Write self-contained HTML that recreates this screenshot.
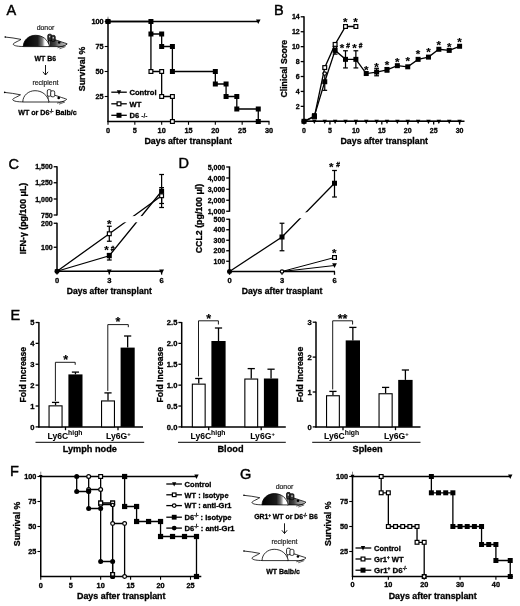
<!DOCTYPE html>
<html lang="en">
<head>
<meta charset="utf-8">
<title>Figure</title>
<style>
html,body{margin:0;padding:0;background:#fff;}
body{width:520px;height:606px;overflow:hidden;}
svg{display:block;filter:blur(0.35px);font-family:'Liberation Sans', sans-serif;}
</style>
</head>
<body>
<svg width="520" height="606" viewBox="0 0 520 606" font-family="Liberation Sans, sans-serif">
<rect x="0" y="0" width="520" height="606" fill="#fff"/>
<text x="6.50" y="14.70" font-size="14.5" text-anchor="start" fill="#000" stroke="#000" stroke-width="0.45">A</text>
<text x="274.00" y="14.70" font-size="14.5" text-anchor="start" fill="#000" stroke="#000" stroke-width="0.45">B</text>
<text x="8.50" y="168.50" font-size="14.5" text-anchor="start" fill="#000" stroke="#000" stroke-width="0.45">C</text>
<text x="178.50" y="168.30" font-size="14.5" text-anchor="start" fill="#000" stroke="#000" stroke-width="0.45">D</text>
<text x="10.50" y="320.00" font-size="14.5" text-anchor="start" fill="#000" stroke="#000" stroke-width="0.45">E</text>
<text x="10.00" y="475.80" font-size="14.5" text-anchor="start" fill="#000" stroke="#000" stroke-width="0.45">F</text>
<text x="240.00" y="478.80" font-size="14.5" text-anchor="start" fill="#000" stroke="#000" stroke-width="0.45">G</text>
<text x="45.50" y="29.60" font-size="6.9" text-anchor="middle" fill="#222" stroke="#222" stroke-width="0.2">donor</text>
<g transform="translate(5.00 37.00)">
<defs><linearGradient id="ga" x1="0" x2="1" y1="0" y2="0"><stop offset="0" stop-color="#000"/><stop offset="0.55" stop-color="#1c1c1c"/><stop offset="0.72" stop-color="#777"/><stop offset="0.82" stop-color="#fff"/><stop offset="1" stop-color="#fff"/></linearGradient><linearGradient id="ha" x1="0" x2="1" y1="0" y2="0"><stop offset="0" stop-color="#fff"/><stop offset="0.1" stop-color="#222"/><stop offset="0.35" stop-color="#444"/><stop offset="0.55" stop-color="#888"/><stop offset="1" stop-color="#c4c4c4"/></linearGradient></defs>
<path d="M0,0 C5,0.4 11,1.4 16,2.4 C13,4.4 8.2,6 8.2,7.2 C8.6,9 14,9.5 18.5,9.5" fill="none" stroke="#000" stroke-width="0.8"/>
<circle cx="0.2" cy="0" r="0.8" fill="#000"/>
<path d="M43.5,2.2 C48,2 52,3.2 55,4.4 C58,5.5 61,6.2 62.2,6.9 C61,8.4 58,9.5 55,9.6 L43.5,9.6 Z" fill="url(#ha)" stroke="#000" stroke-width="0.8"/>
<path d="M18.3,9.6 C18.3,3 24,-1.7 30.5,-1.7 C37.5,-1.7 43,2.5 44.6,9.6 Z" fill="url(#ga)" stroke="#000" stroke-width="0.8"/>
<rect x="42.8" y="-2.8" width="3.8" height="6.6" rx="1.4" fill="#333" stroke="#000" stroke-width="0.8"/>
<rect x="46.2" y="-1.6" width="4.0" height="6.0" rx="1.4" fill="#333" stroke="#000" stroke-width="0.8"/>
<rect x="44" y="-1.2" width="1.2" height="1.6" fill="#ccc"/><rect x="47.6" y="0" width="1.3" height="1.6" fill="#ccc"/>
<circle cx="54.2" cy="5.5" r="1.3" fill="#000"/>
<path d="M52.5,10.8 L59.5,8.9 M54.5,11.8 L60.5,9.6" fill="none" stroke="#000" stroke-width="0.6"/>
</g>
<text x="34.50" y="61.40" font-size="7.6" text-anchor="start" fill="#000" font-weight="bold" stroke="#000" stroke-width="0.3" textLength="21.60" lengthAdjust="spacingAndGlyphs">WT B6</text>
<line x1="45.50" y1="65.00" x2="45.50" y2="75.00" stroke="#000" stroke-width="0.9" stroke-linecap="butt"/>
<polyline points="42.90,71.80 45.50,75.00 48.10,71.80" fill="none" stroke="#000" stroke-width="0.9" stroke-linejoin="miter"/>
<text x="45.40" y="85.00" font-size="6.9" text-anchor="middle" fill="#222" stroke="#222" stroke-width="0.2">recipient</text>
<g transform="translate(4.50 92.40)">
<path d="M0,0 C5,0.4 11,1.4 16,2.4 C13,4.4 8.2,6 8.2,7.2 C8.6,9 14,9.5 18.5,9.5" fill="none" stroke="#000" stroke-width="0.8"/>
<circle cx="0.2" cy="0" r="0.8" fill="#000"/>
<path d="M43.5,2.2 C48,2 52,3.2 55,4.4 C58,5.5 61,6.2 62.2,6.9 C61,8.4 58,9.5 55,9.6 L43.5,9.6 Z" fill="#fff" stroke="#000" stroke-width="0.8"/>
<path d="M18.3,9.6 C18.3,3 24,-1.7 30.5,-1.7 C37.5,-1.7 43,2.5 44.6,9.6 Z" fill="#fff" stroke="#000" stroke-width="0.8"/>
<rect x="42.8" y="-2.8" width="3.8" height="6.6" rx="1.4" fill="#fff" stroke="#000" stroke-width="0.8"/>
<rect x="46.2" y="-1.6" width="4.0" height="6.0" rx="1.4" fill="#fff" stroke="#000" stroke-width="0.8"/>
<circle cx="54.2" cy="5.5" r="1.3" fill="#000"/>
<path d="M52.5,10.8 L59.5,8.9 M54.5,11.8 L60.5,9.6" fill="none" stroke="#000" stroke-width="0.6"/>
</g>
<text x="18.25" y="115.00" font-size="7.6" text-anchor="start" fill="#000" font-weight="bold" stroke="#000" stroke-width="0.3" textLength="58.50" lengthAdjust="spacingAndGlyphs">WT or D6<tspan font-size="4.5" dy="-2.5">-/-</tspan><tspan dy="2.5"> Balb/c</tspan></text>
<line x1="108.00" y1="21.00" x2="108.00" y2="122.10" stroke="#000" stroke-width="1.5" stroke-linecap="butt"/>
<line x1="107.40" y1="121.50" x2="269.50" y2="121.50" stroke="#000" stroke-width="1.5" stroke-linecap="butt"/>
<line x1="108.00" y1="16.70" x2="108.00" y2="21.50" stroke="#555" stroke-width="0.7" stroke-linecap="butt"/>
<line x1="104.70" y1="96.50" x2="108.00" y2="96.50" stroke="#000" stroke-width="1.1" stroke-linecap="butt"/>
<text x="103.70" y="99.20" font-size="7.3" text-anchor="end" fill="#000" font-weight="bold" stroke="#000" stroke-width="0.3">25</text>
<line x1="104.70" y1="71.50" x2="108.00" y2="71.50" stroke="#000" stroke-width="1.1" stroke-linecap="butt"/>
<text x="103.70" y="74.20" font-size="7.3" text-anchor="end" fill="#000" font-weight="bold" stroke="#000" stroke-width="0.3">50</text>
<line x1="104.70" y1="46.50" x2="108.00" y2="46.50" stroke="#000" stroke-width="1.1" stroke-linecap="butt"/>
<text x="103.70" y="49.20" font-size="7.3" text-anchor="end" fill="#000" font-weight="bold" stroke="#000" stroke-width="0.3">75</text>
<line x1="104.70" y1="21.50" x2="108.00" y2="21.50" stroke="#000" stroke-width="1.1" stroke-linecap="butt"/>
<text x="103.70" y="24.20" font-size="7.3" text-anchor="end" fill="#000" font-weight="bold" stroke="#000" stroke-width="0.3">100</text>
<line x1="108.00" y1="121.50" x2="108.00" y2="124.80" stroke="#000" stroke-width="1.1" stroke-linecap="butt"/>
<text x="108.00" y="133.20" font-size="7.3" text-anchor="middle" fill="#000" font-weight="bold" stroke="#000" stroke-width="0.3">0</text>
<line x1="134.83" y1="121.50" x2="134.83" y2="124.80" stroke="#000" stroke-width="1.1" stroke-linecap="butt"/>
<text x="134.83" y="133.20" font-size="7.3" text-anchor="middle" fill="#000" font-weight="bold" stroke="#000" stroke-width="0.3">5</text>
<line x1="161.67" y1="121.50" x2="161.67" y2="124.80" stroke="#000" stroke-width="1.1" stroke-linecap="butt"/>
<text x="161.67" y="133.20" font-size="7.3" text-anchor="middle" fill="#000" font-weight="bold" stroke="#000" stroke-width="0.3">10</text>
<line x1="188.50" y1="121.50" x2="188.50" y2="124.80" stroke="#000" stroke-width="1.1" stroke-linecap="butt"/>
<text x="188.50" y="133.20" font-size="7.3" text-anchor="middle" fill="#000" font-weight="bold" stroke="#000" stroke-width="0.3">15</text>
<line x1="215.33" y1="121.50" x2="215.33" y2="124.80" stroke="#000" stroke-width="1.1" stroke-linecap="butt"/>
<text x="215.33" y="133.20" font-size="7.3" text-anchor="middle" fill="#000" font-weight="bold" stroke="#000" stroke-width="0.3">20</text>
<line x1="242.17" y1="121.50" x2="242.17" y2="124.80" stroke="#000" stroke-width="1.1" stroke-linecap="butt"/>
<text x="242.17" y="133.20" font-size="7.3" text-anchor="middle" fill="#000" font-weight="bold" stroke="#000" stroke-width="0.3">25</text>
<line x1="269.00" y1="121.50" x2="269.00" y2="124.80" stroke="#000" stroke-width="1.1" stroke-linecap="butt"/>
<text x="269.00" y="133.20" font-size="7.3" text-anchor="middle" fill="#000" font-weight="bold" stroke="#000" stroke-width="0.3">30</text>
<text x="85.20" y="91.20" font-size="9" text-anchor="start" fill="#000" font-weight="bold" stroke="#000" stroke-width="0.3" transform="rotate(-90 85.20 91.20)" textLength="44.60" lengthAdjust="spacingAndGlyphs">Survival %</text>
<text x="144.50" y="144.40" font-size="8.8" text-anchor="start" fill="#000" font-weight="bold" stroke="#000" stroke-width="0.3" textLength="87.50" lengthAdjust="spacingAndGlyphs">Days after transplant</text>
<line x1="108.00" y1="21.50" x2="258.27" y2="21.50" stroke="#000" stroke-width="1.3" stroke-linecap="butt"/>
<polygon points="255.98,19.52 260.55,19.52 258.27,24.10" fill="#000"/>
<polyline points="150.93,21.50 150.93,71.50 161.67,71.50 161.67,96.50 172.40,96.50 172.40,121.50" fill="none" stroke="#000" stroke-width="1.3" stroke-linejoin="miter"/>
<rect x="149.03" y="69.60" width="3.8" height="3.8" fill="#fff" stroke="#000" stroke-width="1.2"/>
<rect x="159.77" y="69.60" width="3.8" height="3.8" fill="#fff" stroke="#000" stroke-width="1.2"/>
<rect x="159.77" y="94.60" width="3.8" height="3.8" fill="#fff" stroke="#000" stroke-width="1.2"/>
<rect x="170.50" y="94.60" width="3.8" height="3.8" fill="#fff" stroke="#000" stroke-width="1.2"/>
<rect x="170.50" y="119.60" width="3.8" height="3.8" fill="#fff" stroke="#000" stroke-width="1.2"/>
<polyline points="108.00,21.50 150.93,21.50 150.93,34.00 161.67,34.00 161.67,46.50 172.40,46.50 172.40,71.50 215.33,71.50 215.33,84.00 226.07,84.00 226.07,96.50 236.80,96.50 236.80,109.00 258.27,109.00 258.27,121.50" fill="none" stroke="#000" stroke-width="1.3" stroke-linejoin="miter"/>
<rect x="105.50" y="19.00" width="5.0" height="5.0" fill="#000"/>
<rect x="148.43" y="19.00" width="5.0" height="5.0" fill="#000"/>
<rect x="148.43" y="31.50" width="5.0" height="5.0" fill="#000"/>
<rect x="159.17" y="31.50" width="5.0" height="5.0" fill="#000"/>
<rect x="159.17" y="44.00" width="5.0" height="5.0" fill="#000"/>
<rect x="169.90" y="44.00" width="5.0" height="5.0" fill="#000"/>
<rect x="169.90" y="69.00" width="5.0" height="5.0" fill="#000"/>
<rect x="212.83" y="69.00" width="5.0" height="5.0" fill="#000"/>
<rect x="212.83" y="81.50" width="5.0" height="5.0" fill="#000"/>
<rect x="223.57" y="81.50" width="5.0" height="5.0" fill="#000"/>
<rect x="223.57" y="94.00" width="5.0" height="5.0" fill="#000"/>
<rect x="234.30" y="94.00" width="5.0" height="5.0" fill="#000"/>
<rect x="234.30" y="106.50" width="5.0" height="5.0" fill="#000"/>
<rect x="255.77" y="106.50" width="5.0" height="5.0" fill="#000"/>
<rect x="255.77" y="119.00" width="5.0" height="5.0" fill="#000"/>
<circle cx="108.00" cy="21.50" r="2.70" fill="#000"/>
<line x1="111.30" y1="92.20" x2="126.80" y2="92.20" stroke="#000" stroke-width="1.3" stroke-linecap="butt"/>
<polygon points="116.80,90.30 121.20,90.30 119.00,94.70" fill="#000"/>
<text x="129.50" y="94.90" font-size="7.6" text-anchor="start" fill="#000" font-weight="bold" stroke="#000" stroke-width="0.3">Control</text>
<line x1="111.30" y1="103.80" x2="126.80" y2="103.80" stroke="#000" stroke-width="1.3" stroke-linecap="butt"/>
<rect x="117.10" y="101.90" width="3.8" height="3.8" fill="#fff" stroke="#000" stroke-width="1.2"/>
<text x="129.50" y="106.50" font-size="7.6" text-anchor="start" fill="#000" font-weight="bold" stroke="#000" stroke-width="0.3">WT</text>
<line x1="111.30" y1="115.30" x2="126.80" y2="115.30" stroke="#000" stroke-width="1.3" stroke-linecap="butt"/>
<rect x="116.50" y="112.80" width="5.0" height="5.0" fill="#000"/>
<text x="129.50" y="118.00" font-size="7.6" text-anchor="start" fill="#000" font-weight="bold" stroke="#000" stroke-width="0.3">D6 <tspan font-size="6.6" stroke-width="0.1">-/-</tspan></text>
<line x1="304.00" y1="16.20" x2="304.00" y2="121.90" stroke="#000" stroke-width="1.5" stroke-linecap="butt"/>
<line x1="303.40" y1="121.30" x2="464.50" y2="121.30" stroke="#000" stroke-width="1.5" stroke-linecap="butt"/>
<line x1="300.70" y1="106.37" x2="304.00" y2="106.37" stroke="#000" stroke-width="1.3" stroke-linecap="butt"/>
<text x="299.70" y="108.77" font-size="7.0" text-anchor="end" fill="#000" font-weight="bold" stroke="#000" stroke-width="0.3">2</text>
<line x1="300.70" y1="91.44" x2="304.00" y2="91.44" stroke="#000" stroke-width="1.3" stroke-linecap="butt"/>
<text x="299.70" y="93.84" font-size="7.0" text-anchor="end" fill="#000" font-weight="bold" stroke="#000" stroke-width="0.3">4</text>
<line x1="300.70" y1="76.51" x2="304.00" y2="76.51" stroke="#000" stroke-width="1.3" stroke-linecap="butt"/>
<text x="299.70" y="78.91" font-size="7.0" text-anchor="end" fill="#000" font-weight="bold" stroke="#000" stroke-width="0.3">6</text>
<line x1="300.70" y1="61.59" x2="304.00" y2="61.59" stroke="#000" stroke-width="1.3" stroke-linecap="butt"/>
<text x="299.70" y="63.99" font-size="7.0" text-anchor="end" fill="#000" font-weight="bold" stroke="#000" stroke-width="0.3">8</text>
<line x1="300.70" y1="46.66" x2="304.00" y2="46.66" stroke="#000" stroke-width="1.3" stroke-linecap="butt"/>
<text x="299.70" y="49.06" font-size="7.0" text-anchor="end" fill="#000" font-weight="bold" stroke="#000" stroke-width="0.3">10</text>
<line x1="300.70" y1="31.73" x2="304.00" y2="31.73" stroke="#000" stroke-width="1.3" stroke-linecap="butt"/>
<text x="299.70" y="34.13" font-size="7.0" text-anchor="end" fill="#000" font-weight="bold" stroke="#000" stroke-width="0.3">12</text>
<line x1="300.70" y1="16.80" x2="304.00" y2="16.80" stroke="#000" stroke-width="1.3" stroke-linecap="butt"/>
<text x="299.70" y="19.20" font-size="7.0" text-anchor="end" fill="#000" font-weight="bold" stroke="#000" stroke-width="0.3">14</text>
<line x1="304.00" y1="121.30" x2="304.00" y2="124.60" stroke="#000" stroke-width="1.3" stroke-linecap="butt"/>
<text x="304.00" y="132.50" font-size="7.0" text-anchor="middle" fill="#000" font-weight="bold" stroke="#000" stroke-width="0.3">0</text>
<line x1="329.93" y1="121.30" x2="329.93" y2="124.60" stroke="#000" stroke-width="1.3" stroke-linecap="butt"/>
<text x="329.93" y="132.50" font-size="7.0" text-anchor="middle" fill="#000" font-weight="bold" stroke="#000" stroke-width="0.3">5</text>
<line x1="355.87" y1="121.30" x2="355.87" y2="124.60" stroke="#000" stroke-width="1.3" stroke-linecap="butt"/>
<text x="355.87" y="132.50" font-size="7.0" text-anchor="middle" fill="#000" font-weight="bold" stroke="#000" stroke-width="0.3">10</text>
<line x1="381.80" y1="121.30" x2="381.80" y2="124.60" stroke="#000" stroke-width="1.3" stroke-linecap="butt"/>
<text x="381.80" y="132.50" font-size="7.0" text-anchor="middle" fill="#000" font-weight="bold" stroke="#000" stroke-width="0.3">15</text>
<line x1="407.73" y1="121.30" x2="407.73" y2="124.60" stroke="#000" stroke-width="1.3" stroke-linecap="butt"/>
<text x="407.73" y="132.50" font-size="7.0" text-anchor="middle" fill="#000" font-weight="bold" stroke="#000" stroke-width="0.3">20</text>
<line x1="433.67" y1="121.30" x2="433.67" y2="124.60" stroke="#000" stroke-width="1.3" stroke-linecap="butt"/>
<text x="433.67" y="132.50" font-size="7.0" text-anchor="middle" fill="#000" font-weight="bold" stroke="#000" stroke-width="0.3">25</text>
<line x1="459.60" y1="121.30" x2="459.60" y2="124.60" stroke="#000" stroke-width="1.3" stroke-linecap="butt"/>
<text x="459.60" y="132.50" font-size="7.0" text-anchor="middle" fill="#000" font-weight="bold" stroke="#000" stroke-width="0.3">30</text>
<text x="286.60" y="97.60" font-size="9.1" text-anchor="start" fill="#000" font-weight="bold" stroke="#000" stroke-width="0.3" transform="rotate(-90 286.60 97.60)" textLength="57.80" lengthAdjust="spacingAndGlyphs">Clinical Score</text>
<text x="340.50" y="144.40" font-size="8.8" text-anchor="start" fill="#000" font-weight="bold" stroke="#000" stroke-width="0.3" textLength="87.50" lengthAdjust="spacingAndGlyphs">Days after transplant</text>
<line x1="304.00" y1="121.30" x2="459.60" y2="121.30" stroke="#000" stroke-width="1.3" stroke-linecap="butt"/>
<polygon points="301.80,119.70 306.20,119.70 304.00,124.10" fill="#000"/>
<polygon points="312.17,119.70 316.57,119.70 314.37,124.10" fill="#000"/>
<polygon points="322.55,119.70 326.95,119.70 324.75,124.10" fill="#000"/>
<polygon points="332.92,119.70 337.32,119.70 335.12,124.10" fill="#000"/>
<polygon points="343.29,119.70 347.69,119.70 345.49,124.10" fill="#000"/>
<polygon points="353.67,119.70 358.07,119.70 355.87,124.10" fill="#000"/>
<polygon points="364.04,119.70 368.44,119.70 366.24,124.10" fill="#000"/>
<polygon points="374.41,119.70 378.81,119.70 376.61,124.10" fill="#000"/>
<polygon points="384.79,119.70 389.19,119.70 386.99,124.10" fill="#000"/>
<polygon points="395.16,119.70 399.56,119.70 397.36,124.10" fill="#000"/>
<polygon points="405.53,119.70 409.93,119.70 407.73,124.10" fill="#000"/>
<polygon points="415.91,119.70 420.31,119.70 418.11,124.10" fill="#000"/>
<polygon points="426.28,119.70 430.68,119.70 428.48,124.10" fill="#000"/>
<polygon points="436.65,119.70 441.05,119.70 438.85,124.10" fill="#000"/>
<polygon points="447.03,119.70 451.43,119.70 449.23,124.10" fill="#000"/>
<polygon points="457.40,119.70 461.80,119.70 459.60,124.10" fill="#000"/>
<polyline points="304.00,121.30 314.37,116.82 324.75,67.56 335.12,44.42 345.49,26.50 355.87,26.50" fill="none" stroke="#000" stroke-width="1.3" stroke-linejoin="miter"/>
<polyline points="304.00,121.30 314.37,116.08 324.75,81.74 335.12,50.39 345.49,59.35 355.87,59.35 366.24,73.53 376.61,72.04 386.99,69.80 397.36,65.69 407.73,66.81 418.11,59.35 428.48,57.11 438.85,49.27 449.23,50.39 459.60,46.28" fill="none" stroke="#000" stroke-width="1.3" stroke-linejoin="miter"/>
<line x1="324.75" y1="73.16" x2="324.75" y2="90.32" stroke="#000" stroke-width="1.25" stroke-linecap="butt"/>
<line x1="322.35" y1="73.16" x2="327.15" y2="73.16" stroke="#000" stroke-width="1.25" stroke-linecap="butt"/>
<line x1="322.35" y1="90.32" x2="327.15" y2="90.32" stroke="#000" stroke-width="1.25" stroke-linecap="butt"/>
<line x1="335.12" y1="46.66" x2="335.12" y2="54.12" stroke="#000" stroke-width="1.25" stroke-linecap="butt"/>
<line x1="332.72" y1="46.66" x2="337.52" y2="46.66" stroke="#000" stroke-width="1.25" stroke-linecap="butt"/>
<line x1="332.72" y1="54.12" x2="337.52" y2="54.12" stroke="#000" stroke-width="1.25" stroke-linecap="butt"/>
<line x1="345.49" y1="50.76" x2="345.49" y2="67.93" stroke="#000" stroke-width="1.25" stroke-linecap="butt"/>
<line x1="343.09" y1="50.76" x2="347.89" y2="50.76" stroke="#000" stroke-width="1.25" stroke-linecap="butt"/>
<line x1="343.09" y1="67.93" x2="347.89" y2="67.93" stroke="#000" stroke-width="1.25" stroke-linecap="butt"/>
<line x1="355.87" y1="50.76" x2="355.87" y2="67.93" stroke="#000" stroke-width="1.25" stroke-linecap="butt"/>
<line x1="353.47" y1="50.76" x2="358.27" y2="50.76" stroke="#000" stroke-width="1.25" stroke-linecap="butt"/>
<line x1="353.47" y1="67.93" x2="358.27" y2="67.93" stroke="#000" stroke-width="1.25" stroke-linecap="butt"/>
<line x1="376.61" y1="68.30" x2="376.61" y2="75.77" stroke="#000" stroke-width="1.25" stroke-linecap="butt"/>
<line x1="374.21" y1="68.30" x2="379.01" y2="68.30" stroke="#000" stroke-width="1.25" stroke-linecap="butt"/>
<line x1="374.21" y1="75.77" x2="379.01" y2="75.77" stroke="#000" stroke-width="1.25" stroke-linecap="butt"/>
<line x1="386.99" y1="67.56" x2="386.99" y2="72.04" stroke="#000" stroke-width="1.25" stroke-linecap="butt"/>
<line x1="384.59" y1="67.56" x2="389.39" y2="67.56" stroke="#000" stroke-width="1.25" stroke-linecap="butt"/>
<line x1="384.59" y1="72.04" x2="389.39" y2="72.04" stroke="#000" stroke-width="1.25" stroke-linecap="butt"/>
<line x1="314.37" y1="113.84" x2="314.37" y2="118.31" stroke="#000" stroke-width="1.25" stroke-linecap="butt"/>
<line x1="311.97" y1="113.84" x2="316.77" y2="113.84" stroke="#000" stroke-width="1.25" stroke-linecap="butt"/>
<line x1="311.97" y1="118.31" x2="316.77" y2="118.31" stroke="#000" stroke-width="1.25" stroke-linecap="butt"/>
<circle cx="324.75" cy="73.53" r="1.70" fill="#fff" stroke="#000" stroke-width="1.2"/>
<circle cx="335.12" cy="46.66" r="1.70" fill="#fff" stroke="#000" stroke-width="1.2"/>
<rect x="312.47" y="114.92" width="3.8" height="3.8" fill="#fff" stroke="#000" stroke-width="1.2"/>
<rect x="322.85" y="65.66" width="3.8" height="3.8" fill="#fff" stroke="#000" stroke-width="1.2"/>
<rect x="333.22" y="42.52" width="3.8" height="3.8" fill="#fff" stroke="#000" stroke-width="1.2"/>
<rect x="343.59" y="24.60" width="3.8" height="3.8" fill="#fff" stroke="#000" stroke-width="1.2"/>
<rect x="353.97" y="24.60" width="3.8" height="3.8" fill="#fff" stroke="#000" stroke-width="1.2"/>
<rect x="301.50" y="118.80" width="5.0" height="5.0" fill="#000"/>
<rect x="311.87" y="113.58" width="5.0" height="5.0" fill="#000"/>
<rect x="322.25" y="79.24" width="5.0" height="5.0" fill="#000"/>
<rect x="332.62" y="47.89" width="5.0" height="5.0" fill="#000"/>
<rect x="342.99" y="56.85" width="5.0" height="5.0" fill="#000"/>
<rect x="353.37" y="56.85" width="5.0" height="5.0" fill="#000"/>
<rect x="363.74" y="71.03" width="5.0" height="5.0" fill="#000"/>
<rect x="374.11" y="69.54" width="5.0" height="5.0" fill="#000"/>
<rect x="384.49" y="67.30" width="5.0" height="5.0" fill="#000"/>
<rect x="394.86" y="63.19" width="5.0" height="5.0" fill="#000"/>
<rect x="405.23" y="64.31" width="5.0" height="5.0" fill="#000"/>
<rect x="415.61" y="56.85" width="5.0" height="5.0" fill="#000"/>
<rect x="425.98" y="54.61" width="5.0" height="5.0" fill="#000"/>
<rect x="436.35" y="46.77" width="5.0" height="5.0" fill="#000"/>
<rect x="446.73" y="47.89" width="5.0" height="5.0" fill="#000"/>
<rect x="457.10" y="43.78" width="5.0" height="5.0" fill="#000"/>
<circle cx="304.00" cy="121.30" r="2.50" fill="#000"/>
<text x="345.19" y="26.14" font-size="11.5" text-anchor="middle" fill="#000" font-weight="bold" stroke="#000" stroke-width="0.15">*</text>
<text x="355.57" y="26.14" font-size="11.5" text-anchor="middle" fill="#000" font-weight="bold" stroke="#000" stroke-width="0.15">*</text>
<text x="341.95" y="51.74" font-size="11.5" text-anchor="middle" fill="#000" font-weight="bold" stroke="#000" stroke-width="0.15">*</text>
<text x="348.05" y="48.10" font-size="6.6" text-anchor="middle" fill="#000" font-weight="bold" stroke="#000" stroke-width="0.3">#</text>
<text x="354.40" y="51.74" font-size="11.5" text-anchor="middle" fill="#000" font-weight="bold" stroke="#000" stroke-width="0.15">*</text>
<text x="360.50" y="48.10" font-size="6.6" text-anchor="middle" fill="#000" font-weight="bold" stroke="#000" stroke-width="0.3">#</text>
<text x="366.24" y="73.57" font-size="11.5" text-anchor="middle" fill="#000" font-weight="bold" stroke="#000" stroke-width="0.15">*</text>
<text x="376.61" y="70.57" font-size="11.5" text-anchor="middle" fill="#000" font-weight="bold" stroke="#000" stroke-width="0.15">*</text>
<text x="386.99" y="69.03" font-size="11.5" text-anchor="middle" fill="#000" font-weight="bold" stroke="#000" stroke-width="0.15">*</text>
<text x="397.36" y="65.53" font-size="11.5" text-anchor="middle" fill="#000" font-weight="bold" stroke="#000" stroke-width="0.15">*</text>
<text x="407.73" y="65.35" font-size="11.5" text-anchor="middle" fill="#000" font-weight="bold" stroke="#000" stroke-width="0.15">*</text>
<text x="418.11" y="58.13" font-size="11.5" text-anchor="middle" fill="#000" font-weight="bold" stroke="#000" stroke-width="0.15">*</text>
<text x="428.48" y="56.14" font-size="11.5" text-anchor="middle" fill="#000" font-weight="bold" stroke="#000" stroke-width="0.15">*</text>
<text x="438.85" y="48.56" font-size="11.5" text-anchor="middle" fill="#000" font-weight="bold" stroke="#000" stroke-width="0.15">*</text>
<text x="449.23" y="50.68" font-size="11.5" text-anchor="middle" fill="#000" font-weight="bold" stroke="#000" stroke-width="0.15">*</text>
<text x="459.60" y="45.57" font-size="11.5" text-anchor="middle" fill="#000" font-weight="bold" stroke="#000" stroke-width="0.15">*</text>
<line x1="57.00" y1="166.20" x2="57.00" y2="215.50" stroke="#000" stroke-width="1.5" stroke-linecap="butt"/>
<line x1="57.00" y1="222.70" x2="57.00" y2="271.85" stroke="#000" stroke-width="1.5" stroke-linecap="butt"/>
<line x1="56.40" y1="271.25" x2="162.30" y2="271.25" stroke="#000" stroke-width="1.5" stroke-linecap="butt"/>
<line x1="53.70" y1="166.75" x2="57.00" y2="166.75" stroke="#000" stroke-width="1.3" stroke-linecap="butt"/>
<text x="52.70" y="169.35" font-size="7.0" text-anchor="end" fill="#000" font-weight="bold" stroke="#000" stroke-width="0.3">1,500</text>
<line x1="53.70" y1="182.75" x2="57.00" y2="182.75" stroke="#000" stroke-width="1.3" stroke-linecap="butt"/>
<text x="52.70" y="185.35" font-size="7.0" text-anchor="end" fill="#000" font-weight="bold" stroke="#000" stroke-width="0.3">1,250</text>
<line x1="53.70" y1="199.00" x2="57.00" y2="199.00" stroke="#000" stroke-width="1.3" stroke-linecap="butt"/>
<text x="52.70" y="201.60" font-size="7.0" text-anchor="end" fill="#000" font-weight="bold" stroke="#000" stroke-width="0.3">1,000</text>
<line x1="53.70" y1="215.00" x2="57.00" y2="215.00" stroke="#000" stroke-width="1.3" stroke-linecap="butt"/>
<text x="52.70" y="217.60" font-size="7.0" text-anchor="end" fill="#000" font-weight="bold" stroke="#000" stroke-width="0.3">750</text>
<line x1="53.70" y1="223.25" x2="57.00" y2="223.25" stroke="#000" stroke-width="1.3" stroke-linecap="butt"/>
<text x="52.70" y="225.85" font-size="7.0" text-anchor="end" fill="#000" font-weight="bold" stroke="#000" stroke-width="0.3">200</text>
<line x1="53.70" y1="247.25" x2="57.00" y2="247.25" stroke="#000" stroke-width="1.3" stroke-linecap="butt"/>
<text x="52.70" y="249.85" font-size="7.0" text-anchor="end" fill="#000" font-weight="bold" stroke="#000" stroke-width="0.3">100</text>
<line x1="57.00" y1="271.25" x2="57.00" y2="274.60" stroke="#000" stroke-width="1.3" stroke-linecap="butt"/>
<text x="57.00" y="282.70" font-size="7.6" text-anchor="middle" fill="#000" font-weight="bold" stroke="#000" stroke-width="0.3">0</text>
<line x1="109.30" y1="271.25" x2="109.30" y2="274.60" stroke="#000" stroke-width="1.3" stroke-linecap="butt"/>
<text x="109.30" y="282.70" font-size="7.6" text-anchor="middle" fill="#000" font-weight="bold" stroke="#000" stroke-width="0.3">3</text>
<line x1="161.60" y1="271.25" x2="161.60" y2="274.60" stroke="#000" stroke-width="1.3" stroke-linecap="butt"/>
<text x="161.60" y="282.70" font-size="7.6" text-anchor="middle" fill="#000" font-weight="bold" stroke="#000" stroke-width="0.3">6</text>
<text x="25.60" y="254.20" font-size="8.6" text-anchor="start" fill="#000" font-weight="bold" stroke="#000" stroke-width="0.3" transform="rotate(-90 25.60 254.20)" textLength="71.40" lengthAdjust="spacingAndGlyphs">IFN-γ (pg/100 μL)</text>
<text x="66.75" y="293.90" font-size="8.7" text-anchor="start" fill="#000" font-weight="bold" stroke="#000" stroke-width="0.3" textLength="85.00" lengthAdjust="spacingAndGlyphs">Days after transplant</text>
<polygon points="54.62,269.55 59.38,269.55 57.00,274.30" fill="#000"/>
<polygon points="106.92,269.55 111.68,269.55 109.30,274.30" fill="#000"/>
<polygon points="159.22,269.55 163.98,269.55 161.60,274.30" fill="#000"/>
<polyline points="57.00,271.25 109.30,233.75 161.60,195.75" fill="none" stroke="#000" stroke-width="1.3" stroke-linejoin="miter"/>
<polyline points="57.00,271.25 109.30,255.75 161.60,191.25" fill="none" stroke="#000" stroke-width="1.3" stroke-linejoin="miter"/>
<rect x="58" y="216.1" width="110" height="6.2" fill="#fff"/>
<line x1="109.30" y1="226.25" x2="109.30" y2="241.25" stroke="#000" stroke-width="1.25" stroke-linecap="butt"/>
<line x1="106.90" y1="226.25" x2="111.70" y2="226.25" stroke="#000" stroke-width="1.25" stroke-linecap="butt"/>
<line x1="106.90" y1="241.25" x2="111.70" y2="241.25" stroke="#000" stroke-width="1.25" stroke-linecap="butt"/>
<line x1="109.30" y1="253.50" x2="109.30" y2="260.00" stroke="#000" stroke-width="1.25" stroke-linecap="butt"/>
<line x1="106.90" y1="253.50" x2="111.70" y2="253.50" stroke="#000" stroke-width="1.25" stroke-linecap="butt"/>
<line x1="106.90" y1="260.00" x2="111.70" y2="260.00" stroke="#000" stroke-width="1.25" stroke-linecap="butt"/>
<line x1="161.60" y1="174.50" x2="161.60" y2="207.50" stroke="#000" stroke-width="1.25" stroke-linecap="butt"/>
<line x1="159.20" y1="174.50" x2="164.00" y2="174.50" stroke="#000" stroke-width="1.25" stroke-linecap="butt"/>
<line x1="159.20" y1="207.50" x2="164.00" y2="207.50" stroke="#000" stroke-width="1.25" stroke-linecap="butt"/>
<line x1="161.60" y1="187.60" x2="161.60" y2="203.50" stroke="#000" stroke-width="1.25" stroke-linecap="butt"/>
<line x1="159.20" y1="187.60" x2="164.00" y2="187.60" stroke="#000" stroke-width="1.25" stroke-linecap="butt"/>
<line x1="159.20" y1="203.50" x2="164.00" y2="203.50" stroke="#000" stroke-width="1.25" stroke-linecap="butt"/>
<rect x="107.40" y="231.85" width="3.8" height="3.8" fill="#fff" stroke="#000" stroke-width="1.2"/>
<rect x="106.80" y="253.25" width="5.0" height="5.0" fill="#000"/>
<rect x="159.10" y="188.75" width="5.0" height="5.0" fill="#000"/>
<rect x="159.70" y="193.85" width="3.8" height="3.8" fill="#fff" stroke="#000" stroke-width="1.2"/>
<circle cx="57.00" cy="271.25" r="2.50" fill="#000"/>
<text x="109.20" y="228.24" font-size="11.5" text-anchor="middle" fill="#000" font-weight="bold" stroke="#000" stroke-width="0.15">*</text>
<text x="106.40" y="254.24" font-size="11.5" text-anchor="middle" fill="#000" font-weight="bold" stroke="#000" stroke-width="0.15">*</text>
<text x="112.50" y="250.60" font-size="6.6" text-anchor="middle" fill="#000" font-weight="bold" stroke="#000" stroke-width="0.3">#</text>
<line x1="229.50" y1="166.40" x2="229.50" y2="211.80" stroke="#000" stroke-width="1.5" stroke-linecap="butt"/>
<line x1="229.50" y1="218.70" x2="229.50" y2="272.10" stroke="#000" stroke-width="1.5" stroke-linecap="butt"/>
<line x1="228.90" y1="271.50" x2="335.00" y2="271.50" stroke="#000" stroke-width="1.5" stroke-linecap="butt"/>
<line x1="226.20" y1="167.00" x2="229.50" y2="167.00" stroke="#000" stroke-width="1.3" stroke-linecap="butt"/>
<text x="225.20" y="169.60" font-size="7.0" text-anchor="end" fill="#000" font-weight="bold" stroke="#000" stroke-width="0.3">5,000</text>
<line x1="226.20" y1="178.00" x2="229.50" y2="178.00" stroke="#000" stroke-width="1.3" stroke-linecap="butt"/>
<text x="225.20" y="180.60" font-size="7.0" text-anchor="end" fill="#000" font-weight="bold" stroke="#000" stroke-width="0.3">4,000</text>
<line x1="226.20" y1="189.25" x2="229.50" y2="189.25" stroke="#000" stroke-width="1.3" stroke-linecap="butt"/>
<text x="225.20" y="191.85" font-size="7.0" text-anchor="end" fill="#000" font-weight="bold" stroke="#000" stroke-width="0.3">3,000</text>
<line x1="226.20" y1="200.25" x2="229.50" y2="200.25" stroke="#000" stroke-width="1.3" stroke-linecap="butt"/>
<text x="225.20" y="202.85" font-size="7.0" text-anchor="end" fill="#000" font-weight="bold" stroke="#000" stroke-width="0.3">2,000</text>
<line x1="226.20" y1="211.25" x2="229.50" y2="211.25" stroke="#000" stroke-width="1.3" stroke-linecap="butt"/>
<text x="225.20" y="213.85" font-size="7.0" text-anchor="end" fill="#000" font-weight="bold" stroke="#000" stroke-width="0.3">1,000</text>
<line x1="226.20" y1="219.25" x2="229.50" y2="219.25" stroke="#000" stroke-width="1.3" stroke-linecap="butt"/>
<text x="225.20" y="221.85" font-size="7.0" text-anchor="end" fill="#000" font-weight="bold" stroke="#000" stroke-width="0.3">500</text>
<line x1="226.20" y1="229.75" x2="229.50" y2="229.75" stroke="#000" stroke-width="1.3" stroke-linecap="butt"/>
<text x="225.20" y="232.35" font-size="7.0" text-anchor="end" fill="#000" font-weight="bold" stroke="#000" stroke-width="0.3">400</text>
<line x1="226.20" y1="240.25" x2="229.50" y2="240.25" stroke="#000" stroke-width="1.3" stroke-linecap="butt"/>
<text x="225.20" y="242.85" font-size="7.0" text-anchor="end" fill="#000" font-weight="bold" stroke="#000" stroke-width="0.3">300</text>
<line x1="226.20" y1="250.75" x2="229.50" y2="250.75" stroke="#000" stroke-width="1.3" stroke-linecap="butt"/>
<text x="225.20" y="253.35" font-size="7.0" text-anchor="end" fill="#000" font-weight="bold" stroke="#000" stroke-width="0.3">200</text>
<line x1="226.20" y1="261.25" x2="229.50" y2="261.25" stroke="#000" stroke-width="1.3" stroke-linecap="butt"/>
<text x="225.20" y="263.85" font-size="7.0" text-anchor="end" fill="#000" font-weight="bold" stroke="#000" stroke-width="0.3">100</text>
<line x1="229.50" y1="271.50" x2="229.50" y2="274.80" stroke="#000" stroke-width="1.3" stroke-linecap="butt"/>
<text x="229.50" y="283.20" font-size="7.6" text-anchor="middle" fill="#000" font-weight="bold" stroke="#000" stroke-width="0.3">0</text>
<line x1="282.00" y1="271.50" x2="282.00" y2="274.80" stroke="#000" stroke-width="1.3" stroke-linecap="butt"/>
<text x="282.00" y="283.20" font-size="7.6" text-anchor="middle" fill="#000" font-weight="bold" stroke="#000" stroke-width="0.3">3</text>
<line x1="334.50" y1="271.50" x2="334.50" y2="274.80" stroke="#000" stroke-width="1.3" stroke-linecap="butt"/>
<text x="334.50" y="283.20" font-size="7.6" text-anchor="middle" fill="#000" font-weight="bold" stroke="#000" stroke-width="0.3">6</text>
<text x="202.20" y="253.25" font-size="8.6" text-anchor="start" fill="#000" font-weight="bold" stroke="#000" stroke-width="0.3" transform="rotate(-90 202.20 253.25)" textLength="69.50" lengthAdjust="spacingAndGlyphs">CCL2 (pg/100 μl)</text>
<text x="241.73" y="293.90" font-size="8.7" text-anchor="start" fill="#000" font-weight="bold" stroke="#000" stroke-width="0.3" textLength="80.75" lengthAdjust="spacingAndGlyphs">Days after trasplant</text>
<polyline points="229.50,271.50 282.00,271.50 334.50,265.50" fill="none" stroke="#000" stroke-width="1.0" stroke-linejoin="miter"/>
<polyline points="229.50,271.50 282.00,271.50 334.50,257.50" fill="none" stroke="#000" stroke-width="1.0" stroke-linejoin="miter"/>
<polyline points="229.50,271.50 282.00,237.00 334.50,183.25" fill="none" stroke="#000" stroke-width="1.3" stroke-linejoin="miter"/>
<rect x="230.5" y="212.3" width="110" height="5.9" fill="#fff"/>
<line x1="282.00" y1="223.25" x2="282.00" y2="250.75" stroke="#000" stroke-width="1.25" stroke-linecap="butt"/>
<line x1="279.60" y1="223.25" x2="284.40" y2="223.25" stroke="#000" stroke-width="1.25" stroke-linecap="butt"/>
<line x1="279.60" y1="250.75" x2="284.40" y2="250.75" stroke="#000" stroke-width="1.25" stroke-linecap="butt"/>
<line x1="334.50" y1="170.50" x2="334.50" y2="197.00" stroke="#000" stroke-width="1.25" stroke-linecap="butt"/>
<line x1="332.10" y1="170.50" x2="336.90" y2="170.50" stroke="#000" stroke-width="1.25" stroke-linecap="butt"/>
<line x1="332.10" y1="197.00" x2="336.90" y2="197.00" stroke="#000" stroke-width="1.25" stroke-linecap="butt"/>
<rect x="279.50" y="234.50" width="5.0" height="5.0" fill="#000"/>
<rect x="332.00" y="180.75" width="5.0" height="5.0" fill="#000"/>
<polygon points="332.12,263.25 336.88,263.25 334.50,268.00" fill="#000"/>
<rect x="332.60" y="255.60" width="3.8" height="3.8" fill="#fff" stroke="#000" stroke-width="1.2"/>
<circle cx="282.00" cy="271.50" r="1.70" fill="#fff" stroke="#000" stroke-width="1.2"/>
<circle cx="229.50" cy="271.50" r="2.50" fill="#000"/>
<text x="331.20" y="170.54" font-size="11.5" text-anchor="middle" fill="#000" font-weight="bold" stroke="#000" stroke-width="0.15">*</text>
<text x="338.00" y="166.90" font-size="6.6" text-anchor="middle" fill="#000" font-weight="bold" stroke="#000" stroke-width="0.3">#</text>
<text x="334.25" y="257.29" font-size="11.5" text-anchor="middle" fill="#000" font-weight="bold" stroke="#000" stroke-width="0.15">*</text>
<line x1="38.90" y1="322.00" x2="38.90" y2="427.50" stroke="#000" stroke-width="1.5" stroke-linecap="butt"/>
<line x1="38.30" y1="426.90" x2="143.00" y2="426.90" stroke="#000" stroke-width="1.5" stroke-linecap="butt"/>
<line x1="35.60" y1="426.90" x2="38.90" y2="426.90" stroke="#000" stroke-width="1.3" stroke-linecap="butt"/>
<text x="34.60" y="429.60" font-size="7.6" text-anchor="end" fill="#000" font-weight="bold" stroke="#000" stroke-width="0.3">0</text>
<line x1="35.60" y1="406.02" x2="38.90" y2="406.02" stroke="#000" stroke-width="1.3" stroke-linecap="butt"/>
<text x="34.60" y="408.72" font-size="7.6" text-anchor="end" fill="#000" font-weight="bold" stroke="#000" stroke-width="0.3">1</text>
<line x1="35.60" y1="385.14" x2="38.90" y2="385.14" stroke="#000" stroke-width="1.3" stroke-linecap="butt"/>
<text x="34.60" y="387.84" font-size="7.6" text-anchor="end" fill="#000" font-weight="bold" stroke="#000" stroke-width="0.3">2</text>
<line x1="35.60" y1="364.26" x2="38.90" y2="364.26" stroke="#000" stroke-width="1.3" stroke-linecap="butt"/>
<text x="34.60" y="366.96" font-size="7.6" text-anchor="end" fill="#000" font-weight="bold" stroke="#000" stroke-width="0.3">3</text>
<line x1="35.60" y1="343.38" x2="38.90" y2="343.38" stroke="#000" stroke-width="1.3" stroke-linecap="butt"/>
<text x="34.60" y="346.08" font-size="7.6" text-anchor="end" fill="#000" font-weight="bold" stroke="#000" stroke-width="0.3">4</text>
<line x1="35.60" y1="322.50" x2="38.90" y2="322.50" stroke="#000" stroke-width="1.3" stroke-linecap="butt"/>
<text x="34.60" y="325.20" font-size="7.6" text-anchor="end" fill="#000" font-weight="bold" stroke="#000" stroke-width="0.3">5</text>
<line x1="55.55" y1="402.40" x2="55.55" y2="405.30" stroke="#000" stroke-width="1.3" stroke-linecap="butt"/>
<line x1="51.95" y1="402.40" x2="59.15" y2="402.40" stroke="#000" stroke-width="1.3" stroke-linecap="butt"/>
<rect x="49.05" y="405.85" width="13.00" height="21.05" fill="#fff" stroke="#000" stroke-width="1.1"/>
<line x1="75.45" y1="372.10" x2="75.45" y2="374.40" stroke="#000" stroke-width="1.3" stroke-linecap="butt"/>
<line x1="71.85" y1="372.10" x2="79.05" y2="372.10" stroke="#000" stroke-width="1.3" stroke-linecap="butt"/>
<rect x="68.40" y="374.40" width="14.10" height="52.50" fill="#000"/>
<line x1="108.00" y1="392.90" x2="108.00" y2="400.40" stroke="#000" stroke-width="1.3" stroke-linecap="butt"/>
<line x1="104.40" y1="392.90" x2="111.60" y2="392.90" stroke="#000" stroke-width="1.3" stroke-linecap="butt"/>
<rect x="101.55" y="400.95" width="12.90" height="25.95" fill="#fff" stroke="#000" stroke-width="1.1"/>
<line x1="127.65" y1="336.00" x2="127.65" y2="347.60" stroke="#000" stroke-width="1.3" stroke-linecap="butt"/>
<line x1="124.05" y1="336.00" x2="131.25" y2="336.00" stroke="#000" stroke-width="1.3" stroke-linecap="butt"/>
<rect x="120.60" y="347.60" width="14.10" height="79.30" fill="#000"/>
<polyline points="55.40,401.00 55.40,362.30 75.20,362.30 75.20,364.80" fill="none" stroke="#000" stroke-width="0.9" stroke-linejoin="miter"/>
<polyline points="107.80,390.90 107.80,324.60 128.30,324.60 128.30,327.20" fill="none" stroke="#000" stroke-width="0.9" stroke-linejoin="miter"/>
<text x="65.60" y="363.86" font-size="12.5" text-anchor="middle" fill="#000" font-weight="bold" stroke="#000" stroke-width="0.15">*</text>
<text x="117.90" y="326.36" font-size="12.5" text-anchor="middle" fill="#000" font-weight="bold" stroke="#000" stroke-width="0.15">*</text>
<text x="47.50" y="438.90" font-size="8.3" text-anchor="start" fill="#000" font-weight="bold" stroke="#000" stroke-width="0.05" textLength="35.00" lengthAdjust="spacingAndGlyphs">Ly6C<tspan font-size="6.6" dy="-3.6">high</tspan></text>
<text x="106.00" y="438.90" font-size="8.3" text-anchor="start" fill="#000" font-weight="bold" stroke="#000" stroke-width="0.05" textLength="24.60" lengthAdjust="spacingAndGlyphs">Ly6G<tspan font-size="5.6" dy="-3.4">+</tspan></text>
<line x1="35.50" y1="442.30" x2="144.20" y2="442.30" stroke="#000" stroke-width="1.0" stroke-linecap="butt"/>
<text x="89.80" y="451.90" font-size="9.2" text-anchor="middle" fill="#000" font-weight="bold" stroke="#000" stroke-width="0.3">Lymph node</text>
<text x="26.00" y="402.45" font-size="8.8" text-anchor="start" fill="#000" font-weight="bold" stroke="#000" stroke-width="0.3" transform="rotate(-90 26.00 402.45)" textLength="55.50" lengthAdjust="spacingAndGlyphs">Fold Increase</text>
<line x1="65.50" y1="426.90" x2="65.50" y2="430.20" stroke="#000" stroke-width="1.3" stroke-linecap="butt"/>
<line x1="118.00" y1="426.90" x2="118.00" y2="430.20" stroke="#000" stroke-width="1.3" stroke-linecap="butt"/>
<line x1="181.70" y1="322.00" x2="181.70" y2="427.50" stroke="#000" stroke-width="1.5" stroke-linecap="butt"/>
<line x1="181.10" y1="426.90" x2="285.80" y2="426.90" stroke="#000" stroke-width="1.5" stroke-linecap="butt"/>
<line x1="178.40" y1="426.90" x2="181.70" y2="426.90" stroke="#000" stroke-width="1.3" stroke-linecap="butt"/>
<text x="177.40" y="429.60" font-size="7.6" text-anchor="end" fill="#000" font-weight="bold" stroke="#000" stroke-width="0.3">0.0</text>
<line x1="178.40" y1="406.02" x2="181.70" y2="406.02" stroke="#000" stroke-width="1.3" stroke-linecap="butt"/>
<text x="177.40" y="408.72" font-size="7.6" text-anchor="end" fill="#000" font-weight="bold" stroke="#000" stroke-width="0.3">0.5</text>
<line x1="178.40" y1="385.14" x2="181.70" y2="385.14" stroke="#000" stroke-width="1.3" stroke-linecap="butt"/>
<text x="177.40" y="387.84" font-size="7.6" text-anchor="end" fill="#000" font-weight="bold" stroke="#000" stroke-width="0.3">1.0</text>
<line x1="178.40" y1="364.26" x2="181.70" y2="364.26" stroke="#000" stroke-width="1.3" stroke-linecap="butt"/>
<text x="177.40" y="366.96" font-size="7.6" text-anchor="end" fill="#000" font-weight="bold" stroke="#000" stroke-width="0.3">1.5</text>
<line x1="178.40" y1="343.38" x2="181.70" y2="343.38" stroke="#000" stroke-width="1.3" stroke-linecap="butt"/>
<text x="177.40" y="346.08" font-size="7.6" text-anchor="end" fill="#000" font-weight="bold" stroke="#000" stroke-width="0.3">2.0</text>
<line x1="178.40" y1="322.50" x2="181.70" y2="322.50" stroke="#000" stroke-width="1.3" stroke-linecap="butt"/>
<text x="177.40" y="325.20" font-size="7.6" text-anchor="end" fill="#000" font-weight="bold" stroke="#000" stroke-width="0.3">2.5</text>
<line x1="198.75" y1="378.50" x2="198.75" y2="383.60" stroke="#000" stroke-width="1.3" stroke-linecap="butt"/>
<line x1="195.15" y1="378.50" x2="202.35" y2="378.50" stroke="#000" stroke-width="1.3" stroke-linecap="butt"/>
<rect x="192.35" y="384.15" width="12.80" height="42.75" fill="#fff" stroke="#000" stroke-width="1.1"/>
<line x1="218.50" y1="328.00" x2="218.50" y2="341.00" stroke="#000" stroke-width="1.3" stroke-linecap="butt"/>
<line x1="214.90" y1="328.00" x2="222.10" y2="328.00" stroke="#000" stroke-width="1.3" stroke-linecap="butt"/>
<rect x="211.40" y="341.00" width="14.20" height="85.90" fill="#000"/>
<line x1="251.25" y1="368.60" x2="251.25" y2="378.50" stroke="#000" stroke-width="1.3" stroke-linecap="butt"/>
<line x1="247.65" y1="368.60" x2="254.85" y2="368.60" stroke="#000" stroke-width="1.3" stroke-linecap="butt"/>
<rect x="244.85" y="379.05" width="12.80" height="47.85" fill="#fff" stroke="#000" stroke-width="1.1"/>
<line x1="271.05" y1="369.20" x2="271.05" y2="378.50" stroke="#000" stroke-width="1.3" stroke-linecap="butt"/>
<line x1="267.45" y1="369.20" x2="274.65" y2="369.20" stroke="#000" stroke-width="1.3" stroke-linecap="butt"/>
<rect x="263.90" y="378.50" width="14.30" height="48.40" fill="#000"/>
<polyline points="198.50,376.40 198.50,320.80 218.40,320.80 218.40,324.50" fill="none" stroke="#000" stroke-width="0.9" stroke-linejoin="miter"/>
<text x="208.60" y="322.96" font-size="12.5" text-anchor="middle" fill="#000" font-weight="bold" stroke="#000" stroke-width="0.15">*</text>
<text x="190.50" y="438.90" font-size="8.3" text-anchor="start" fill="#000" font-weight="bold" stroke="#000" stroke-width="0.05" textLength="35.00" lengthAdjust="spacingAndGlyphs">Ly6C<tspan font-size="6.6" dy="-3.6">high</tspan></text>
<text x="250.20" y="438.90" font-size="8.3" text-anchor="start" fill="#000" font-weight="bold" stroke="#000" stroke-width="0.05" textLength="24.60" lengthAdjust="spacingAndGlyphs">Ly6G<tspan font-size="5.6" dy="-3.4">+</tspan></text>
<line x1="178.00" y1="442.30" x2="285.80" y2="442.30" stroke="#000" stroke-width="1.0" stroke-linecap="butt"/>
<text x="230.50" y="451.90" font-size="9.2" text-anchor="middle" fill="#000" font-weight="bold" stroke="#000" stroke-width="0.3">Blood</text>
<text x="163.00" y="402.45" font-size="8.8" text-anchor="start" fill="#000" font-weight="bold" stroke="#000" stroke-width="0.3" transform="rotate(-90 163.00 402.45)" textLength="55.50" lengthAdjust="spacingAndGlyphs">Fold Increase</text>
<line x1="208.70" y1="426.90" x2="208.70" y2="430.20" stroke="#000" stroke-width="1.3" stroke-linecap="butt"/>
<line x1="261.20" y1="426.90" x2="261.20" y2="430.20" stroke="#000" stroke-width="1.3" stroke-linecap="butt"/>
<line x1="316.00" y1="321.70" x2="316.00" y2="427.50" stroke="#000" stroke-width="1.5" stroke-linecap="butt"/>
<line x1="315.40" y1="426.90" x2="420.50" y2="426.90" stroke="#000" stroke-width="1.5" stroke-linecap="butt"/>
<line x1="312.70" y1="426.90" x2="316.00" y2="426.90" stroke="#000" stroke-width="1.3" stroke-linecap="butt"/>
<text x="311.70" y="429.60" font-size="7.6" text-anchor="end" fill="#000" font-weight="bold" stroke="#000" stroke-width="0.3">0</text>
<line x1="312.70" y1="392.00" x2="316.00" y2="392.00" stroke="#000" stroke-width="1.3" stroke-linecap="butt"/>
<text x="311.70" y="394.70" font-size="7.6" text-anchor="end" fill="#000" font-weight="bold" stroke="#000" stroke-width="0.3">1</text>
<line x1="312.70" y1="357.10" x2="316.00" y2="357.10" stroke="#000" stroke-width="1.3" stroke-linecap="butt"/>
<text x="311.70" y="359.80" font-size="7.6" text-anchor="end" fill="#000" font-weight="bold" stroke="#000" stroke-width="0.3">2</text>
<line x1="312.70" y1="322.20" x2="316.00" y2="322.20" stroke="#000" stroke-width="1.3" stroke-linecap="butt"/>
<text x="311.70" y="324.90" font-size="7.6" text-anchor="end" fill="#000" font-weight="bold" stroke="#000" stroke-width="0.3">3</text>
<line x1="332.95" y1="391.40" x2="332.95" y2="395.20" stroke="#000" stroke-width="1.3" stroke-linecap="butt"/>
<line x1="329.35" y1="391.40" x2="336.55" y2="391.40" stroke="#000" stroke-width="1.3" stroke-linecap="butt"/>
<rect x="326.55" y="395.75" width="12.80" height="31.15" fill="#fff" stroke="#000" stroke-width="1.1"/>
<line x1="352.85" y1="327.40" x2="352.85" y2="340.40" stroke="#000" stroke-width="1.3" stroke-linecap="butt"/>
<line x1="349.25" y1="327.40" x2="356.45" y2="327.40" stroke="#000" stroke-width="1.3" stroke-linecap="butt"/>
<rect x="345.70" y="340.40" width="14.30" height="86.50" fill="#000"/>
<line x1="385.60" y1="387.40" x2="385.60" y2="393.20" stroke="#000" stroke-width="1.3" stroke-linecap="butt"/>
<line x1="382.00" y1="387.40" x2="389.20" y2="387.40" stroke="#000" stroke-width="1.3" stroke-linecap="butt"/>
<rect x="379.05" y="393.75" width="13.10" height="33.15" fill="#fff" stroke="#000" stroke-width="1.1"/>
<line x1="405.40" y1="370.00" x2="405.40" y2="379.90" stroke="#000" stroke-width="1.3" stroke-linecap="butt"/>
<line x1="401.80" y1="370.00" x2="409.00" y2="370.00" stroke="#000" stroke-width="1.3" stroke-linecap="butt"/>
<rect x="398.20" y="379.90" width="14.40" height="47.00" fill="#000"/>
<polyline points="332.70,389.40 332.70,320.80 352.60,320.80 352.60,324.50" fill="none" stroke="#000" stroke-width="0.9" stroke-linejoin="miter"/>
<text x="342.50" y="322.56" font-size="12.5" text-anchor="middle" fill="#000" font-weight="bold" stroke="#000" stroke-width="0.15">**</text>
<text x="324.10" y="438.90" font-size="8.3" text-anchor="start" fill="#000" font-weight="bold" stroke="#000" stroke-width="0.05" textLength="35.00" lengthAdjust="spacingAndGlyphs">Ly6C<tspan font-size="6.6" dy="-3.6">high</tspan></text>
<text x="384.00" y="438.90" font-size="8.3" text-anchor="start" fill="#000" font-weight="bold" stroke="#000" stroke-width="0.05" textLength="24.60" lengthAdjust="spacingAndGlyphs">Ly6G<tspan font-size="5.6" dy="-3.4">+</tspan></text>
<line x1="312.20" y1="442.30" x2="420.50" y2="442.30" stroke="#000" stroke-width="1.0" stroke-linecap="butt"/>
<text x="367.60" y="451.90" font-size="9.2" text-anchor="middle" fill="#000" font-weight="bold" stroke="#000" stroke-width="0.3">Spleen</text>
<text x="303.50" y="402.30" font-size="8.8" text-anchor="start" fill="#000" font-weight="bold" stroke="#000" stroke-width="0.3" transform="rotate(-90 303.50 402.30)" textLength="55.50" lengthAdjust="spacingAndGlyphs">Fold Increase</text>
<line x1="343.00" y1="426.90" x2="343.00" y2="430.20" stroke="#000" stroke-width="1.3" stroke-linecap="butt"/>
<line x1="395.50" y1="426.90" x2="395.50" y2="430.20" stroke="#000" stroke-width="1.3" stroke-linecap="butt"/>
<line x1="40.75" y1="476.00" x2="40.75" y2="577.10" stroke="#000" stroke-width="1.5" stroke-linecap="butt"/>
<line x1="40.15" y1="576.50" x2="201.30" y2="576.50" stroke="#000" stroke-width="1.5" stroke-linecap="butt"/>
<line x1="40.75" y1="471.70" x2="40.75" y2="476.50" stroke="#555" stroke-width="0.7" stroke-linecap="butt"/>
<line x1="37.45" y1="551.50" x2="40.75" y2="551.50" stroke="#000" stroke-width="1.1" stroke-linecap="butt"/>
<text x="36.45" y="554.20" font-size="7.3" text-anchor="end" fill="#000" font-weight="bold" stroke="#000" stroke-width="0.3">25</text>
<line x1="37.45" y1="526.50" x2="40.75" y2="526.50" stroke="#000" stroke-width="1.1" stroke-linecap="butt"/>
<text x="36.45" y="529.20" font-size="7.3" text-anchor="end" fill="#000" font-weight="bold" stroke="#000" stroke-width="0.3">50</text>
<line x1="37.45" y1="501.50" x2="40.75" y2="501.50" stroke="#000" stroke-width="1.1" stroke-linecap="butt"/>
<text x="36.45" y="504.20" font-size="7.3" text-anchor="end" fill="#000" font-weight="bold" stroke="#000" stroke-width="0.3">75</text>
<line x1="37.45" y1="476.50" x2="40.75" y2="476.50" stroke="#000" stroke-width="1.1" stroke-linecap="butt"/>
<text x="36.45" y="479.20" font-size="7.3" text-anchor="end" fill="#000" font-weight="bold" stroke="#000" stroke-width="0.3">100</text>
<line x1="40.75" y1="576.50" x2="40.75" y2="579.80" stroke="#000" stroke-width="1.1" stroke-linecap="butt"/>
<text x="40.75" y="587.70" font-size="7.3" text-anchor="middle" fill="#000" font-weight="bold" stroke="#000" stroke-width="0.3">0</text>
<line x1="70.70" y1="576.50" x2="70.70" y2="579.80" stroke="#000" stroke-width="1.1" stroke-linecap="butt"/>
<text x="70.70" y="587.70" font-size="7.3" text-anchor="middle" fill="#000" font-weight="bold" stroke="#000" stroke-width="0.3">5</text>
<line x1="100.65" y1="576.50" x2="100.65" y2="579.80" stroke="#000" stroke-width="1.1" stroke-linecap="butt"/>
<text x="100.65" y="587.70" font-size="7.3" text-anchor="middle" fill="#000" font-weight="bold" stroke="#000" stroke-width="0.3">10</text>
<line x1="130.60" y1="576.50" x2="130.60" y2="579.80" stroke="#000" stroke-width="1.1" stroke-linecap="butt"/>
<text x="130.60" y="587.70" font-size="7.3" text-anchor="middle" fill="#000" font-weight="bold" stroke="#000" stroke-width="0.3">15</text>
<line x1="160.55" y1="576.50" x2="160.55" y2="579.80" stroke="#000" stroke-width="1.1" stroke-linecap="butt"/>
<text x="160.55" y="587.70" font-size="7.3" text-anchor="middle" fill="#000" font-weight="bold" stroke="#000" stroke-width="0.3">20</text>
<line x1="190.50" y1="576.50" x2="190.50" y2="579.80" stroke="#000" stroke-width="1.1" stroke-linecap="butt"/>
<text x="190.50" y="587.70" font-size="7.3" text-anchor="middle" fill="#000" font-weight="bold" stroke="#000" stroke-width="0.3">25</text>
<text x="19.60" y="546.20" font-size="9.0" text-anchor="start" fill="#000" font-weight="bold" stroke="#000" stroke-width="0.3" transform="rotate(-90 19.60 546.20)" textLength="44.60" lengthAdjust="spacingAndGlyphs">Survival %</text>
<text x="77.00" y="598.90" font-size="8.8" text-anchor="start" fill="#000" font-weight="bold" stroke="#000" stroke-width="0.3" textLength="88.50" lengthAdjust="spacingAndGlyphs">Days after transplant</text>
<line x1="40.75" y1="476.50" x2="196.49" y2="476.50" stroke="#000" stroke-width="1.3" stroke-linecap="butt"/>
<polygon points="194.29,474.60 198.69,474.60 196.49,479.00" fill="#000"/>
<polyline points="76.69,476.50 76.69,491.50 88.67,491.50 88.67,508.50 100.65,508.50 100.65,561.50 112.63,561.50 112.63,576.50" fill="none" stroke="#000" stroke-width="1.3" stroke-linejoin="miter"/>
<circle cx="76.69" cy="476.50" r="2.50" fill="#000"/>
<circle cx="76.69" cy="491.50" r="2.50" fill="#000"/>
<circle cx="88.67" cy="491.50" r="2.50" fill="#000"/>
<circle cx="88.67" cy="508.50" r="2.50" fill="#000"/>
<circle cx="100.65" cy="508.50" r="2.50" fill="#000"/>
<circle cx="100.65" cy="561.50" r="2.50" fill="#000"/>
<circle cx="112.63" cy="561.50" r="2.50" fill="#000"/>
<circle cx="112.63" cy="576.50" r="2.50" fill="#000"/>
<polyline points="124.61,476.50 124.61,506.50 136.59,506.50 136.59,521.50 148.57,521.50 160.55,521.50 160.55,536.50 172.53,536.50 184.51,536.50 196.49,536.50 196.49,576.50" fill="none" stroke="#000" stroke-width="1.3" stroke-linejoin="miter"/>
<rect x="122.01" y="473.90" width="5.2" height="5.2" fill="#000"/>
<rect x="122.01" y="503.90" width="5.2" height="5.2" fill="#000"/>
<rect x="133.99" y="503.90" width="5.2" height="5.2" fill="#000"/>
<rect x="133.99" y="518.90" width="5.2" height="5.2" fill="#000"/>
<rect x="145.97" y="518.90" width="5.2" height="5.2" fill="#000"/>
<rect x="157.95" y="518.90" width="5.2" height="5.2" fill="#000"/>
<rect x="157.95" y="533.90" width="5.2" height="5.2" fill="#000"/>
<rect x="169.93" y="533.90" width="5.2" height="5.2" fill="#000"/>
<rect x="181.91" y="533.90" width="5.2" height="5.2" fill="#000"/>
<rect x="193.89" y="533.90" width="5.2" height="5.2" fill="#000"/>
<rect x="193.89" y="573.90" width="5.2" height="5.2" fill="#000"/>
<polyline points="100.65,476.50 100.65,503.00 112.63,503.00 112.63,574.50" fill="none" stroke="#000" stroke-width="1.3" stroke-linejoin="miter"/>
<rect x="98.75" y="474.60" width="3.8" height="3.8" fill="#fff" stroke="#000" stroke-width="1.2"/>
<rect x="98.75" y="501.10" width="3.8" height="3.8" fill="#fff" stroke="#000" stroke-width="1.2"/>
<rect x="110.73" y="501.10" width="3.8" height="3.8" fill="#fff" stroke="#000" stroke-width="1.2"/>
<rect x="110.73" y="572.60" width="3.8" height="3.8" fill="#fff" stroke="#000" stroke-width="1.2"/>
<polyline points="88.67,476.50 88.67,489.50 100.65,489.50 100.65,504.50 112.63,504.50 112.63,523.50 124.61,523.50 124.61,576.50" fill="none" stroke="#000" stroke-width="1.3" stroke-linejoin="miter"/>
<circle cx="88.67" cy="476.50" r="1.90" fill="#fff" stroke="#000" stroke-width="1.2"/>
<circle cx="88.67" cy="489.50" r="1.90" fill="#fff" stroke="#000" stroke-width="1.2"/>
<circle cx="100.65" cy="489.50" r="1.90" fill="#fff" stroke="#000" stroke-width="1.2"/>
<circle cx="100.65" cy="504.50" r="1.90" fill="#fff" stroke="#000" stroke-width="1.2"/>
<circle cx="112.63" cy="504.50" r="1.90" fill="#fff" stroke="#000" stroke-width="1.2"/>
<circle cx="112.63" cy="523.50" r="1.90" fill="#fff" stroke="#000" stroke-width="1.2"/>
<circle cx="124.61" cy="523.50" r="1.90" fill="#fff" stroke="#000" stroke-width="1.2"/>
<circle cx="124.61" cy="576.50" r="1.90" fill="#fff" stroke="#000" stroke-width="1.2"/>
<circle cx="88.67" cy="491.00" r="2.50" fill="#000"/>
<rect x="98.75" y="501.10" width="3.8" height="3.8" fill="#fff" stroke="#000" stroke-width="1.2"/>
<rect x="110.73" y="501.10" width="3.8" height="3.8" fill="#fff" stroke="#000" stroke-width="1.2"/>
<circle cx="112.63" cy="505.00" r="1.60" fill="#fff" stroke="#000" stroke-width="1.2"/>
<circle cx="112.63" cy="576.50" r="2.50" fill="#000"/>
<rect x="110.93" y="572.60" width="3.3999999999999995" height="3.3999999999999995" fill="#fff" stroke="#000" stroke-width="1.2"/>
<polygon points="38.99,474.98 42.51,474.98 40.75,478.50" fill="#000"/>
<line x1="166.30" y1="484.00" x2="181.90" y2="484.00" stroke="#000" stroke-width="1.3" stroke-linecap="butt"/>
<polygon points="172.09,482.18 176.31,482.18 174.20,486.40" fill="#000"/>
<text x="184.60" y="486.70" font-size="7.6" text-anchor="start" fill="#000" font-weight="bold" stroke="#000" stroke-width="0.3" textLength="26.80" lengthAdjust="spacingAndGlyphs">Control</text>
<line x1="166.30" y1="494.80" x2="181.90" y2="494.80" stroke="#000" stroke-width="1.3" stroke-linecap="butt"/>
<rect x="172.40" y="493.00" width="3.5999999999999996" height="3.5999999999999996" fill="#fff" stroke="#000" stroke-width="1.2"/>
<text x="184.60" y="497.50" font-size="7.6" text-anchor="start" fill="#000" font-weight="bold" stroke="#000" stroke-width="0.3" textLength="43.90" lengthAdjust="spacingAndGlyphs">WT : Isotype</text>
<line x1="166.30" y1="505.60" x2="181.90" y2="505.60" stroke="#000" stroke-width="1.3" stroke-linecap="butt"/>
<circle cx="174.20" cy="505.60" r="1.80" fill="#fff" stroke="#000" stroke-width="1.2"/>
<text x="184.60" y="508.30" font-size="7.6" text-anchor="start" fill="#000" font-weight="bold" stroke="#000" stroke-width="0.3" textLength="46.90" lengthAdjust="spacingAndGlyphs">WT : anti-Gr1</text>
<line x1="166.30" y1="517.20" x2="181.90" y2="517.20" stroke="#000" stroke-width="1.3" stroke-linecap="butt"/>
<rect x="171.80" y="514.80" width="4.8" height="4.8" fill="#000"/>
<text x="184.60" y="519.90" font-size="7.6" text-anchor="start" fill="#000" font-weight="bold" stroke="#000" stroke-width="0.3" textLength="46.90" lengthAdjust="spacingAndGlyphs">D6<tspan font-size="4.5" dy="-2.5">-/-</tspan><tspan dy="2.5"> : Isotype</tspan></text>
<line x1="166.30" y1="528.10" x2="181.90" y2="528.10" stroke="#000" stroke-width="1.3" stroke-linecap="butt"/>
<circle cx="174.20" cy="528.10" r="2.40" fill="#000"/>
<text x="184.60" y="530.80" font-size="7.6" text-anchor="start" fill="#000" font-weight="bold" stroke="#000" stroke-width="0.3" textLength="50.00" lengthAdjust="spacingAndGlyphs">D6<tspan font-size="4.5" dy="-2.5">-/-</tspan><tspan dy="2.5"> : anti-Gr1</tspan></text>
<text x="284.50" y="488.80" font-size="6.9" text-anchor="middle" fill="#222" stroke="#222" stroke-width="0.2">donor</text>
<g transform="translate(243.75 495.30)">
<defs><linearGradient id="gc" x1="0" x2="1" y1="0" y2="0"><stop offset="0" stop-color="#000"/><stop offset="0.55" stop-color="#1c1c1c"/><stop offset="0.72" stop-color="#777"/><stop offset="0.82" stop-color="#fff"/><stop offset="1" stop-color="#fff"/></linearGradient><linearGradient id="hc" x1="0" x2="1" y1="0" y2="0"><stop offset="0" stop-color="#fff"/><stop offset="0.1" stop-color="#222"/><stop offset="0.35" stop-color="#444"/><stop offset="0.55" stop-color="#888"/><stop offset="1" stop-color="#c4c4c4"/></linearGradient></defs>
<path d="M0,0 C5,0.4 11,1.4 16,2.4 C13,4.4 8.2,6 8.2,7.2 C8.6,9 14,9.5 18.5,9.5" fill="none" stroke="#000" stroke-width="0.8"/>
<circle cx="0.2" cy="0" r="0.8" fill="#000"/>
<path d="M43.5,2.2 C48,2 52,3.2 55,4.4 C58,5.5 61,6.2 62.2,6.9 C61,8.4 58,9.5 55,9.6 L43.5,9.6 Z" fill="url(#hc)" stroke="#000" stroke-width="0.8"/>
<path d="M18.3,9.6 C18.3,3 24,-1.7 30.5,-1.7 C37.5,-1.7 43,2.5 44.6,9.6 Z" fill="url(#gc)" stroke="#000" stroke-width="0.8"/>
<rect x="42.8" y="-2.8" width="3.8" height="6.6" rx="1.4" fill="#333" stroke="#000" stroke-width="0.8"/>
<rect x="46.2" y="-1.6" width="4.0" height="6.0" rx="1.4" fill="#333" stroke="#000" stroke-width="0.8"/>
<rect x="44" y="-1.2" width="1.2" height="1.6" fill="#ccc"/><rect x="47.6" y="0" width="1.3" height="1.6" fill="#ccc"/>
<circle cx="54.2" cy="5.5" r="1.3" fill="#000"/>
<path d="M52.5,10.8 L59.5,8.9 M54.5,11.8 L60.5,9.6" fill="none" stroke="#000" stroke-width="0.6"/>
</g>
<text x="254.23" y="519.20" font-size="7.4" text-anchor="start" fill="#000" font-weight="bold" stroke="#000" stroke-width="0.3" textLength="63.75" lengthAdjust="spacingAndGlyphs">GR1<tspan font-size="4.5" dy="-2.5">+</tspan><tspan dy="2.5"> WT or D6</tspan><tspan font-size="4.5" dy="-2.5">-/-</tspan><tspan dy="2.5"> B6</tspan></text>
<line x1="284.50" y1="523.30" x2="284.50" y2="533.50" stroke="#000" stroke-width="0.9" stroke-linecap="butt"/>
<polyline points="281.90,530.30 284.50,533.50 287.10,530.30" fill="none" stroke="#000" stroke-width="0.9" stroke-linejoin="miter"/>
<text x="284.50" y="543.90" font-size="6.9" text-anchor="middle" fill="#222" stroke="#222" stroke-width="0.2">recipient</text>
<g transform="translate(243.75 551.00)">
<path d="M0,0 C5,0.4 11,1.4 16,2.4 C13,4.4 8.2,6 8.2,7.2 C8.6,9 14,9.5 18.5,9.5" fill="none" stroke="#000" stroke-width="0.8"/>
<circle cx="0.2" cy="0" r="0.8" fill="#000"/>
<path d="M43.5,2.2 C48,2 52,3.2 55,4.4 C58,5.5 61,6.2 62.2,6.9 C61,8.4 58,9.5 55,9.6 L43.5,9.6 Z" fill="#fff" stroke="#000" stroke-width="0.8"/>
<path d="M18.3,9.6 C18.3,3 24,-1.7 30.5,-1.7 C37.5,-1.7 43,2.5 44.6,9.6 Z" fill="#fff" stroke="#000" stroke-width="0.8"/>
<rect x="42.8" y="-2.8" width="3.8" height="6.6" rx="1.4" fill="#fff" stroke="#000" stroke-width="0.8"/>
<rect x="46.2" y="-1.6" width="4.0" height="6.0" rx="1.4" fill="#fff" stroke="#000" stroke-width="0.8"/>
<circle cx="54.2" cy="5.5" r="1.3" fill="#000"/>
<path d="M52.5,10.8 L59.5,8.9 M54.5,11.8 L60.5,9.6" fill="none" stroke="#000" stroke-width="0.6"/>
</g>
<text x="266.23" y="573.70" font-size="7.5" text-anchor="start" fill="#000" font-weight="bold" stroke="#000" stroke-width="0.3" textLength="33.75" lengthAdjust="spacingAndGlyphs">WT Balb/c</text>
<line x1="352.50" y1="476.00" x2="352.50" y2="577.10" stroke="#000" stroke-width="1.5" stroke-linecap="butt"/>
<line x1="351.90" y1="576.50" x2="513.00" y2="576.50" stroke="#000" stroke-width="1.5" stroke-linecap="butt"/>
<line x1="352.50" y1="471.70" x2="352.50" y2="476.50" stroke="#555" stroke-width="0.7" stroke-linecap="butt"/>
<line x1="349.20" y1="551.50" x2="352.50" y2="551.50" stroke="#000" stroke-width="1.1" stroke-linecap="butt"/>
<text x="348.20" y="554.20" font-size="7.3" text-anchor="end" fill="#000" font-weight="bold" stroke="#000" stroke-width="0.3">25</text>
<line x1="349.20" y1="526.50" x2="352.50" y2="526.50" stroke="#000" stroke-width="1.1" stroke-linecap="butt"/>
<text x="348.20" y="529.20" font-size="7.3" text-anchor="end" fill="#000" font-weight="bold" stroke="#000" stroke-width="0.3">50</text>
<line x1="349.20" y1="501.50" x2="352.50" y2="501.50" stroke="#000" stroke-width="1.1" stroke-linecap="butt"/>
<text x="348.20" y="504.20" font-size="7.3" text-anchor="end" fill="#000" font-weight="bold" stroke="#000" stroke-width="0.3">75</text>
<line x1="349.20" y1="476.50" x2="352.50" y2="476.50" stroke="#000" stroke-width="1.1" stroke-linecap="butt"/>
<text x="348.20" y="479.20" font-size="7.3" text-anchor="end" fill="#000" font-weight="bold" stroke="#000" stroke-width="0.3">100</text>
<line x1="352.50" y1="576.50" x2="352.50" y2="579.80" stroke="#000" stroke-width="1.1" stroke-linecap="butt"/>
<text x="352.50" y="587.40" font-size="7.3" text-anchor="middle" fill="#000" font-weight="bold" stroke="#000" stroke-width="0.3">0</text>
<line x1="388.35" y1="576.50" x2="388.35" y2="579.80" stroke="#000" stroke-width="1.1" stroke-linecap="butt"/>
<text x="388.35" y="587.40" font-size="7.3" text-anchor="middle" fill="#000" font-weight="bold" stroke="#000" stroke-width="0.3">10</text>
<line x1="424.20" y1="576.50" x2="424.20" y2="579.80" stroke="#000" stroke-width="1.1" stroke-linecap="butt"/>
<text x="424.20" y="587.40" font-size="7.3" text-anchor="middle" fill="#000" font-weight="bold" stroke="#000" stroke-width="0.3">20</text>
<line x1="460.05" y1="576.50" x2="460.05" y2="579.80" stroke="#000" stroke-width="1.1" stroke-linecap="butt"/>
<text x="460.05" y="587.40" font-size="7.3" text-anchor="middle" fill="#000" font-weight="bold" stroke="#000" stroke-width="0.3">30</text>
<line x1="495.90" y1="576.50" x2="495.90" y2="579.80" stroke="#000" stroke-width="1.1" stroke-linecap="butt"/>
<text x="495.90" y="587.40" font-size="7.3" text-anchor="middle" fill="#000" font-weight="bold" stroke="#000" stroke-width="0.3">40</text>
<text x="331.30" y="545.90" font-size="9.0" text-anchor="start" fill="#000" font-weight="bold" stroke="#000" stroke-width="0.3" transform="rotate(-90 331.30 545.90)" textLength="44.40" lengthAdjust="spacingAndGlyphs">Survival %</text>
<text x="388.70" y="599.10" font-size="8.8" text-anchor="start" fill="#000" font-weight="bold" stroke="#000" stroke-width="0.3" textLength="88.00" lengthAdjust="spacingAndGlyphs">Days after transplant</text>
<line x1="352.50" y1="476.50" x2="510.24" y2="476.50" stroke="#000" stroke-width="1.3" stroke-linecap="butt"/>
<polygon points="508.04,474.60 512.44,474.60 510.24,479.00" fill="#000"/>
<polygon points="350.56,474.83 354.44,474.83 352.50,478.70" fill="#000"/>
<polyline points="381.18,476.50 381.18,492.80 388.35,492.80 388.35,526.50 395.52,526.50 402.69,526.50 409.86,526.50 417.03,526.50 417.03,542.30 424.20,542.30 424.20,576.50" fill="none" stroke="#000" stroke-width="1.3" stroke-linejoin="miter"/>
<rect x="379.28" y="474.60" width="3.8" height="3.8" fill="#fff" stroke="#000" stroke-width="1.2"/>
<rect x="379.28" y="490.90" width="3.8" height="3.8" fill="#fff" stroke="#000" stroke-width="1.2"/>
<rect x="386.45" y="490.90" width="3.8" height="3.8" fill="#fff" stroke="#000" stroke-width="1.2"/>
<rect x="386.45" y="524.60" width="3.8" height="3.8" fill="#fff" stroke="#000" stroke-width="1.2"/>
<rect x="393.62" y="524.60" width="3.8" height="3.8" fill="#fff" stroke="#000" stroke-width="1.2"/>
<rect x="400.79" y="524.60" width="3.8" height="3.8" fill="#fff" stroke="#000" stroke-width="1.2"/>
<rect x="407.96" y="524.60" width="3.8" height="3.8" fill="#fff" stroke="#000" stroke-width="1.2"/>
<rect x="415.13" y="524.60" width="3.8" height="3.8" fill="#fff" stroke="#000" stroke-width="1.2"/>
<rect x="415.13" y="540.40" width="3.8" height="3.8" fill="#fff" stroke="#000" stroke-width="1.2"/>
<rect x="422.30" y="540.40" width="3.8" height="3.8" fill="#fff" stroke="#000" stroke-width="1.2"/>
<rect x="422.30" y="574.60" width="3.8" height="3.8" fill="#fff" stroke="#000" stroke-width="1.2"/>
<polyline points="431.37,476.50 431.37,492.80 438.54,492.80 445.71,492.80 452.88,492.80 452.88,526.50 460.05,526.50 467.22,526.50 474.39,526.50 481.56,526.50 481.56,544.50 488.73,544.50 495.90,544.50 495.90,560.50 510.24,560.50 510.24,576.50" fill="none" stroke="#000" stroke-width="1.3" stroke-linejoin="miter"/>
<rect x="428.87" y="474.00" width="5.0" height="5.0" fill="#000"/>
<rect x="428.87" y="490.30" width="5.0" height="5.0" fill="#000"/>
<rect x="436.04" y="490.30" width="5.0" height="5.0" fill="#000"/>
<rect x="443.21" y="490.30" width="5.0" height="5.0" fill="#000"/>
<rect x="450.38" y="490.30" width="5.0" height="5.0" fill="#000"/>
<rect x="450.38" y="524.00" width="5.0" height="5.0" fill="#000"/>
<rect x="457.55" y="524.00" width="5.0" height="5.0" fill="#000"/>
<rect x="464.72" y="524.00" width="5.0" height="5.0" fill="#000"/>
<rect x="471.89" y="524.00" width="5.0" height="5.0" fill="#000"/>
<rect x="479.06" y="524.00" width="5.0" height="5.0" fill="#000"/>
<rect x="479.06" y="542.00" width="5.0" height="5.0" fill="#000"/>
<rect x="486.23" y="542.00" width="5.0" height="5.0" fill="#000"/>
<rect x="493.40" y="542.00" width="5.0" height="5.0" fill="#000"/>
<rect x="493.40" y="558.00" width="5.0" height="5.0" fill="#000"/>
<rect x="507.74" y="558.00" width="5.0" height="5.0" fill="#000"/>
<rect x="507.74" y="574.00" width="5.0" height="5.0" fill="#000"/>
<circle cx="424.20" cy="576.50" r="1.80" fill="#fff" stroke="#000" stroke-width="1.2"/>
<line x1="355.50" y1="548.00" x2="371.30" y2="548.00" stroke="#000" stroke-width="1.3" stroke-linecap="butt"/>
<polygon points="360.80,546.10 365.20,546.10 363.00,550.50" fill="#000"/>
<text x="374.00" y="550.60" font-size="7.6" text-anchor="start" fill="#000" font-weight="bold" stroke="#000" stroke-width="0.3" textLength="26.80" lengthAdjust="spacingAndGlyphs">Control</text>
<line x1="355.50" y1="559.00" x2="371.30" y2="559.00" stroke="#000" stroke-width="1.3" stroke-linecap="butt"/>
<rect x="361.10" y="557.10" width="3.8" height="3.8" fill="#fff" stroke="#000" stroke-width="1.2"/>
<text x="374.00" y="561.60" font-size="7.6" text-anchor="start" fill="#000" font-weight="bold" stroke="#000" stroke-width="0.3" textLength="29.70" lengthAdjust="spacingAndGlyphs">Gr1<tspan font-size="4.5" dy="-2.5">+</tspan><tspan dy="2.5"> WT</tspan></text>
<line x1="355.50" y1="570.20" x2="371.30" y2="570.20" stroke="#000" stroke-width="1.3" stroke-linecap="butt"/>
<rect x="360.50" y="567.70" width="5.0" height="5.0" fill="#000"/>
<text x="374.00" y="572.80" font-size="7.6" text-anchor="start" fill="#000" font-weight="bold" stroke="#000" stroke-width="0.3" textLength="33.10" lengthAdjust="spacingAndGlyphs">Gr1<tspan font-size="4.5" dy="-2.5">+</tspan><tspan dy="2.5"> D6</tspan><tspan font-size="4.5" dy="-2.5">-/-</tspan></text>
</svg>
</body>
</html>
